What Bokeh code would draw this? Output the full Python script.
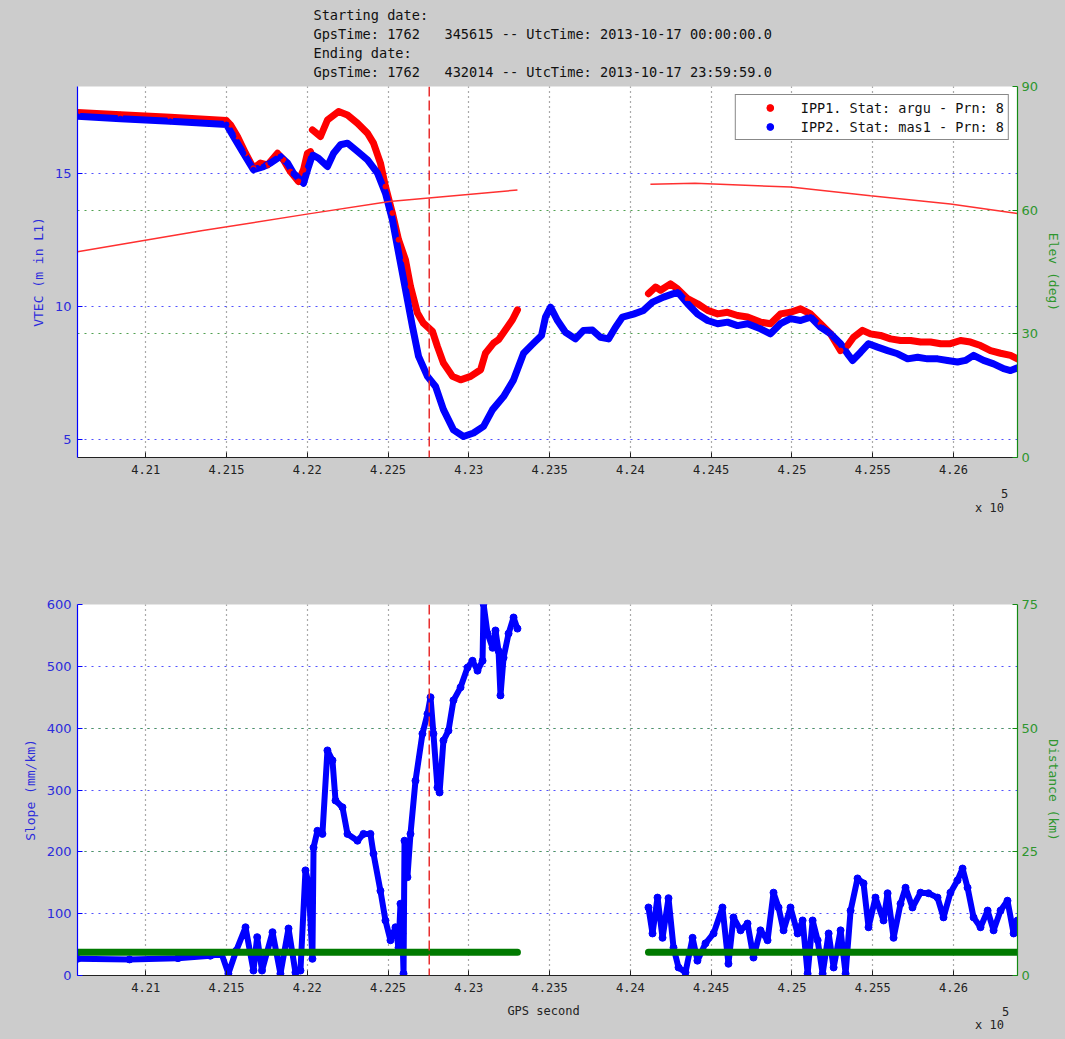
from bokeh.plotting import figure
from bokeh.models import Range1d, LinearAxis, FixedTicker, Grid, Span, Legend, LegendItem
from bokeh.layouts import column
from bokeh.embed import file_html
from bokeh.resources import INLINE
from bokeh.core.properties import value

nan = float("nan")

# ---------------- data ----------------
gps_start = 420578
gps_end = 426396
x_ticks = [421000, 421500, 422000, 422500, 423000, 423500, 424000, 424500, 425000, 425500, 426000]
x_tick_labels = ["4.21", "4.215", "4.22", "4.225", "4.23", "4.235", "4.24", "4.245", "4.25", "4.255", "4.26"]
vtec_ticks = [5, 10, 15]
elev_ticks = [0, 30, 60, 90]
slope_ticks = [0, 100, 200, 300, 400, 500, 600]
dist_ticks = [0, 25, 50, 75]
event_gps = 422755

header_lines = [
    "Starting date:",
    "GpsTime: 1762\u00a0\u00a0\u00a0345615 -- UtcTime: 2013-10-17 00:00:00.0",
    "Ending date:",
    "GpsTime: 1762\u00a0\u00a0\u00a0432014 -- UtcTime: 2013-10-17 23:59:59.0",
]
legend_labels = ["IPP1. Stat: argu - Prn: 8", "IPP2. Stat: mas1 - Prn: 8"]
x_axis_title = "GPS second"
exponent_base = "x 10"
exponent_power = "5"

ipp1_gps = [420578, 420844, 421153, 421500, 421525, 421568, 421618, 421667, 421710, 421754,
            421816, 421853, 421896, 421946, 421977, 422001, 422020, nan,
            422032, 422082, 422125, 422194, 422249, 422311, 422373, 422410, 422453, 422484,
            422527, 422565, 422608, 422639, 422682, 422719, 422775, 422806, 422843, 422899,
            422949, 423011, 423073, 423103, 423153, 423184, 423227, 423270, 423301, nan,
            424112, 424156, 424187, 424248, 424292, 424354, 424416, 424478, 424540, 424601,
            424663, 424725, 424805, 424867, 424929, 424991, 425053, 425115, 425177, 425239,
            425301, 425344, 425381, 425437, 425486, 425548, 425610, 425672, 425734, 425796,
            425858, 425920, 425981, 426043, 426105, 426167, 426229, 426291, 426353, 426396]
ipp1_vtec = [17.28, 17.2, 17.1, 16.98, 16.82, 16.38, 15.75, 15.19, 15.38, 15.31,
             15.75, 15.5, 15.06, 14.69, 15.13, 15.75, 15.81, nan,
             16.63, 16.38, 17.0, 17.32, 17.19, 16.88, 16.5, 16.13, 15.38, 14.5,
             13.5, 12.5, 11.74, 10.74, 9.74, 9.36, 9.05, 8.48, 7.86, 7.36,
             7.23, 7.36, 7.61, 8.23, 8.61, 8.74, 9.11, 9.49, 9.86, nan,
             10.47, 10.72, 10.6, 10.84, 10.65, 10.28, 10.09, 9.84, 9.71, 9.77,
             9.65, 9.59, 9.4, 9.34, 9.71, 9.77, 9.9, 9.71, 9.34, 8.96,
             8.33, 8.52, 8.83, 9.09, 8.96, 8.9, 8.77, 8.71, 8.71, 8.65,
             8.65, 8.59, 8.59, 8.71, 8.65, 8.52, 8.33, 8.23, 8.15, 8.02]

ipp2_gps = [420578, 420844, 421153, 421500, 421543, 421605, 421667, 421729, 421772, 421834,
            421878, 421915, 421977, 422008, 422032, 422070, 422125, 422163, 422206, 422249,
            422311, 422373, 422435, 422484, 422527, 422558, 422589, 422620, 422651, 422689,
            422744, 422794, 422843, 422905, 422967, 423029, 423091, 423147, 423215, 423277,
            423339, 423401, 423450, 423475, 423506, 423549, 423598, 423660, 423710, 423765,
            423815, 423865, 423908, 423951, 424019, 424081, 424137, 424205, 424267, 424292,
            424354, 424416, 424478, 424540, 424601, 424663, 424725, 424805, 424867, 424929,
            424991, 425053, 425115, 425177, 425239, 425301, 425344, 425375, 425425, 425474,
            425530, 425592, 425654, 425716, 425778, 425839, 425901, 425963, 426025, 426074,
            426124, 426186, 426248, 426310, 426353, 426396]
ipp2_vtec = [17.14, 17.05, 16.95, 16.83, 16.38, 15.75, 15.13, 15.25, 15.38, 15.63,
             15.38, 15.0, 14.62, 15.25, 15.69, 15.56, 15.25, 15.75, 16.07, 16.13,
             15.82, 15.5, 15.0, 14.25, 13.25, 12.24, 11.24, 10.24, 9.24, 8.11,
             7.36, 6.98, 6.11, 5.35, 5.1, 5.23, 5.48, 6.11, 6.6, 7.23,
             8.23, 8.61, 8.9, 9.6, 9.96, 9.46, 9.02, 8.77, 9.09, 9.1,
             8.83, 8.77, 9.21, 9.59, 9.7, 9.84, 10.15, 10.34, 10.47, 10.53,
             10.09, 9.7, 9.46, 9.34, 9.4, 9.27, 9.34, 9.15, 8.96, 9.34,
             9.53, 9.46, 9.59, 9.21, 8.96, 8.59, 8.21, 7.96, 8.27, 8.59,
             8.46, 8.33, 8.21, 8.02, 8.08, 8.02, 8.02, 7.96, 7.9, 7.96,
             8.15, 7.96, 7.83, 7.65, 7.58, 7.68]

elev_gps = [420578, 421344, 422008, 422509, 423301, nan, 424124, 424400, 424991, 425486, 425981, 426396]
elev_deg = [49.9, 55.0, 59.1, 62.1, 64.9, nan, 66.3, 66.5, 65.6, 63.5, 61.5, 59.2]

slope_gps = [420578, 420900, 421200, 421400, 421470, 421512, 421560, 421618, 421667, 421690,
             421720, 421785, 421834, 421884, 421927, 421958, 421989, 422008, 422032, 422039,
             422063, 422094, 422125, 422156, 422175, 422218, 422249, 422311, 422348, 422391,
             422410, 422453, 422484, 422515, 422546, 422565, 422577, 422589, 422596, 422602,
             422620, 422639, 422670, 422713, 422744, 422763, 422781, 422806, 422819, 422843,
             422874, 422905, 422949, 422992, 423023, 423054, 423085, 423091, 423116, 423147,
             423165, 423184, 423196, 423215, 423246, 423277, 423301, nan,
             424112, 424137, 424168, 424199, 424236, 424267, 424298, 424341, 424385, 424415,
             424465, 424515, 424570, 424607, 424638, 424682, 424725, 424762, 424805, 424849,
             424886, 424917, 424948, 424991, 425035, 425066, 425097, 425128, 425159, 425190,
             425227, 425258, 425301, 425332, 425363, 425406, 425443, 425474, 425517, 425567,
             425592, 425629, 425672, 425703, 425746, 425796, 425845, 425901, 425938, 425981,
             426025, 426056, 426087, 426124, 426167, 426211, 426248, 426291, 426334, 426372,
             426396]
slope_mmkm = [27, 26, 28, 32, 35, 3, 40, 78, 8, 62,
              8, 70, 3, 76, 5, 8, 170, 149, 27, 207,
              234, 229, 364, 348, 283, 272, 229, 218, 229, 229,
              197, 137, 89, 57, 78, 45, 116, 68, 3, 218,
              159, 229, 315, 391, 423, 450, 391, 304, 296, 380,
              396, 445, 466, 498, 509, 493, 509, 601, 553, 530,
              558, 525, 453, 514, 553, 579, 561, nan,
              110, 68, 126, 61, 125, 45, 13, 5, 61, 24,
              52, 68, 110, 19, 94, 73, 84, 29, 73, 57,
              134, 110, 73, 110, 68, 89, 3, 89, 57, 3,
              68, 13, 73, 3, 105, 157, 149, 78, 126, 89,
              133, 61, 116, 142, 110, 134, 133, 126, 94, 134,
              154, 173, 142, 94, 78, 105, 73, 105, 121, 68,
              89]

dist_gps = [420578, 423301, nan, 424112, 426396]
dist_km = [4.7, 4.7, nan, 4.7, 4.7]

# ---------------- style ----------------
BG = "#cccccc"
BLUE = "#0000ff"
BLUE_TXT = "#2b2bdc"
GREEN = "#138a13"
GREEN_TXT = "#2e962e"
RED = "#ff0000"
DARK = "#222222"
MONO = "DejaVu Sans Mono"
SANS = "DejaVu Sans"

W = 1065
FL, FR = 77, 48
FH = 371


def style_axis(ax, color, txt_color, label):
    ax.axis_line_color = color
    ax.axis_line_width = 1.2
    ax.major_tick_line_color = color
    ax.major_tick_in = 5
    ax.major_tick_out = 0
    ax.minor_tick_line_color = None
    ax.major_label_text_color = txt_color
    ax.major_label_text_font = SANS
    ax.major_label_text_font_size = "13px"
    ax.major_label_standoff = 6
    ax.axis_label = label
    ax.axis_label_text_color = txt_color
    ax.axis_label_text_font = MONO
    ax.axis_label_text_font_style = "normal"
    ax.axis_label_text_font_size = "13px"
    ax.axis_label_standoff = 6


def make_fig(height, btop, bbot, ylo, yhi, left_ticks, right_name, rlo, rhi, right_ticks,
             left_label, right_label):
    p = figure(width=W, height=height, x_range=Range1d(gps_start, gps_end),
               y_range=Range1d(ylo, yhi), output_backend="svg", toolbar_location=None,
               min_border_left=FL, min_border_right=FR, min_border_top=btop, min_border_bottom=bbot,
               background_fill_color="white", border_fill_color=BG, outline_line_color=None)
    p.extra_y_ranges = {right_name: Range1d(rlo, rhi)}
    xa = p.xaxis[0]
    xa.ticker = FixedTicker(ticks=x_ticks)
    xa.major_label_overrides = {t: s for t, s in zip(x_ticks, x_tick_labels)}
    xa.axis_line_color = DARK
    xa.major_tick_line_color = DARK
    xa.major_tick_in = 5
    xa.major_tick_out = 0
    xa.minor_tick_line_color = None
    xa.major_label_text_font = MONO
    xa.major_label_text_font_size = "12px"
    xa.major_label_text_color = DARK
    xa.major_label_standoff = 7
    ya = p.yaxis[0]
    ya.ticker = FixedTicker(ticks=left_ticks)
    style_axis(ya, BLUE, BLUE_TXT, left_label)
    ra = LinearAxis(y_range_name=right_name, ticker=FixedTicker(ticks=right_ticks))
    style_axis(ra, GREEN, GREEN_TXT, right_label)
    ra.major_label_standoff = 4
    ra.axis_label_standoff = 5
    p.add_layout(ra, "right")
    p.xgrid.ticker = FixedTicker(ticks=x_ticks)
    p.xgrid.grid_line_color = "#555555"
    p.xgrid.grid_line_dash = "1 4"
    p.xgrid.grid_line_width = 1.2
    p.ygrid.ticker = FixedTicker(ticks=left_ticks)
    p.ygrid.grid_line_color = "#5050ff"
    p.ygrid.grid_line_dash = "2 5"
    p.ygrid.grid_line_width = 1.2
    g2 = Grid(dimension=1, ticker=FixedTicker(ticks=right_ticks), y_range_name=right_name,
              grid_line_color="#50a050", grid_line_dash="2 5", grid_line_width=1.2)
    p.add_layout(g2, "center")
    return p


def text_fig(height):
    # the column aligns every child's frame with the plots' frames (FL .. W-FR),
    # so the x range is given in page pixels over that same span
    p = figure(width=W, height=height, x_range=Range1d(FL, W - FR), y_range=Range1d(height, 0),
               output_backend="svg", toolbar_location=None,
               min_border_left=FL, min_border_right=FR, min_border_top=0, min_border_bottom=0,
               x_axis_location=None, y_axis_location=None,
               background_fill_color=BG, border_fill_color=BG, outline_line_color=None)
    p.xgrid.visible = False
    p.ygrid.visible = False
    return p


# ---------------- header ----------------
H0 = 80
ph = text_fig(H0)
ph.text(x=[313] * len(header_lines), y=[14, 33, 52, 71], text=header_lines,
        text_font=value(MONO), text_font_size="13.6px", text_color="#111111",
        text_baseline="middle", text_align="left")

# ---------------- top figure ----------------
H1 = 405
p1 = make_fig(H1, 6, H1 - 6 - FH, 4.31, 18.26, vtec_ticks, "elev", 0, 90, elev_ticks,
              "VTEC (m in L1)", "Elev (deg)")

p1.line(ipp1_gps, ipp1_vtec, line_color=RED, line_width=7, line_join="round", line_cap="round")
p1.line(ipp2_gps, ipp2_vtec, line_color=BLUE, line_width=7, line_join="round", line_cap="round")
d_red = p1.scatter(ipp1_gps, ipp1_vtec, marker="circle", size=5, color=RED)
d_blue = p1.scatter(ipp2_gps, ipp2_vtec, marker="circle", size=5, color=BLUE)
p1.line(elev_gps, elev_deg, y_range_name="elev", line_color="#ff3030", line_width=1.5)
p1.add_layout(Span(location=event_gps, dimension="height", line_color="#e83030",
                   line_dash="10 4", line_width=1.5))

legend = Legend(items=[LegendItem(label=legend_labels[0], renderers=[d_red]),
                       LegendItem(label=legend_labels[1], renderers=[d_blue])],
                location="top_right", margin=8, padding=4, spacing=2,
                glyph_width=60, glyph_height=17, label_height=17, label_standoff=1,
                label_text_font=MONO, label_text_font_size="13.5px", label_text_color="#111111",
                border_line_color="#111111", border_line_width=1.2, background_fill_alpha=1.0)
p1.add_layout(legend, "center")

# ---------------- middle (exponent of top x axis) ----------------
H_mid = 113
pm = text_fig(H_mid)
pm.text(x=[989, 1004], y=[22, 8], text=[exponent_base, exponent_power],
        text_font=value(MONO), text_font_size="12px", text_color=DARK,
        text_baseline="middle", text_align="center")

# ---------------- bottom figure ----------------
H2 = 6 + FH + 24
p2 = make_fig(H2, 6, 24, 0, 600, slope_ticks, "dist", 0, 75, dist_ticks,
              "Slope (mm/km)", "Distance (km)")

p2.line(slope_gps, slope_mmkm, line_color=BLUE, line_width=6, line_join="round")
p2.scatter(slope_gps, slope_mmkm, marker="circle", size=7, color=BLUE)
p2.line(dist_gps, dist_km, y_range_name="dist", line_color="#007a00", line_width=7, line_cap="round")
p2.add_layout(Span(location=event_gps, dimension="height", line_color="#e83030",
                   line_dash="10 4", line_width=1.5))

# ---------------- footer ----------------
H_foot = 1039 - H0 - H1 - H_mid - H2
pf = text_fig(H_foot)
pf.text(x=[543], y=[11], text=[x_axis_title], text_font=value(MONO), text_font_size="12px",
        text_color=DARK, text_baseline="middle", text_align="center")
pf.text(x=[989, 1005], y=[25, 12], text=[exponent_base, exponent_power],
        text_font=value(MONO), text_font_size="12px", text_color=DARK,
        text_baseline="middle", text_align="center")

layout = column(ph, p1, pm, p2, pf, spacing=0, background=BG)
open("out.html", "w").write(file_html(layout, INLINE))
